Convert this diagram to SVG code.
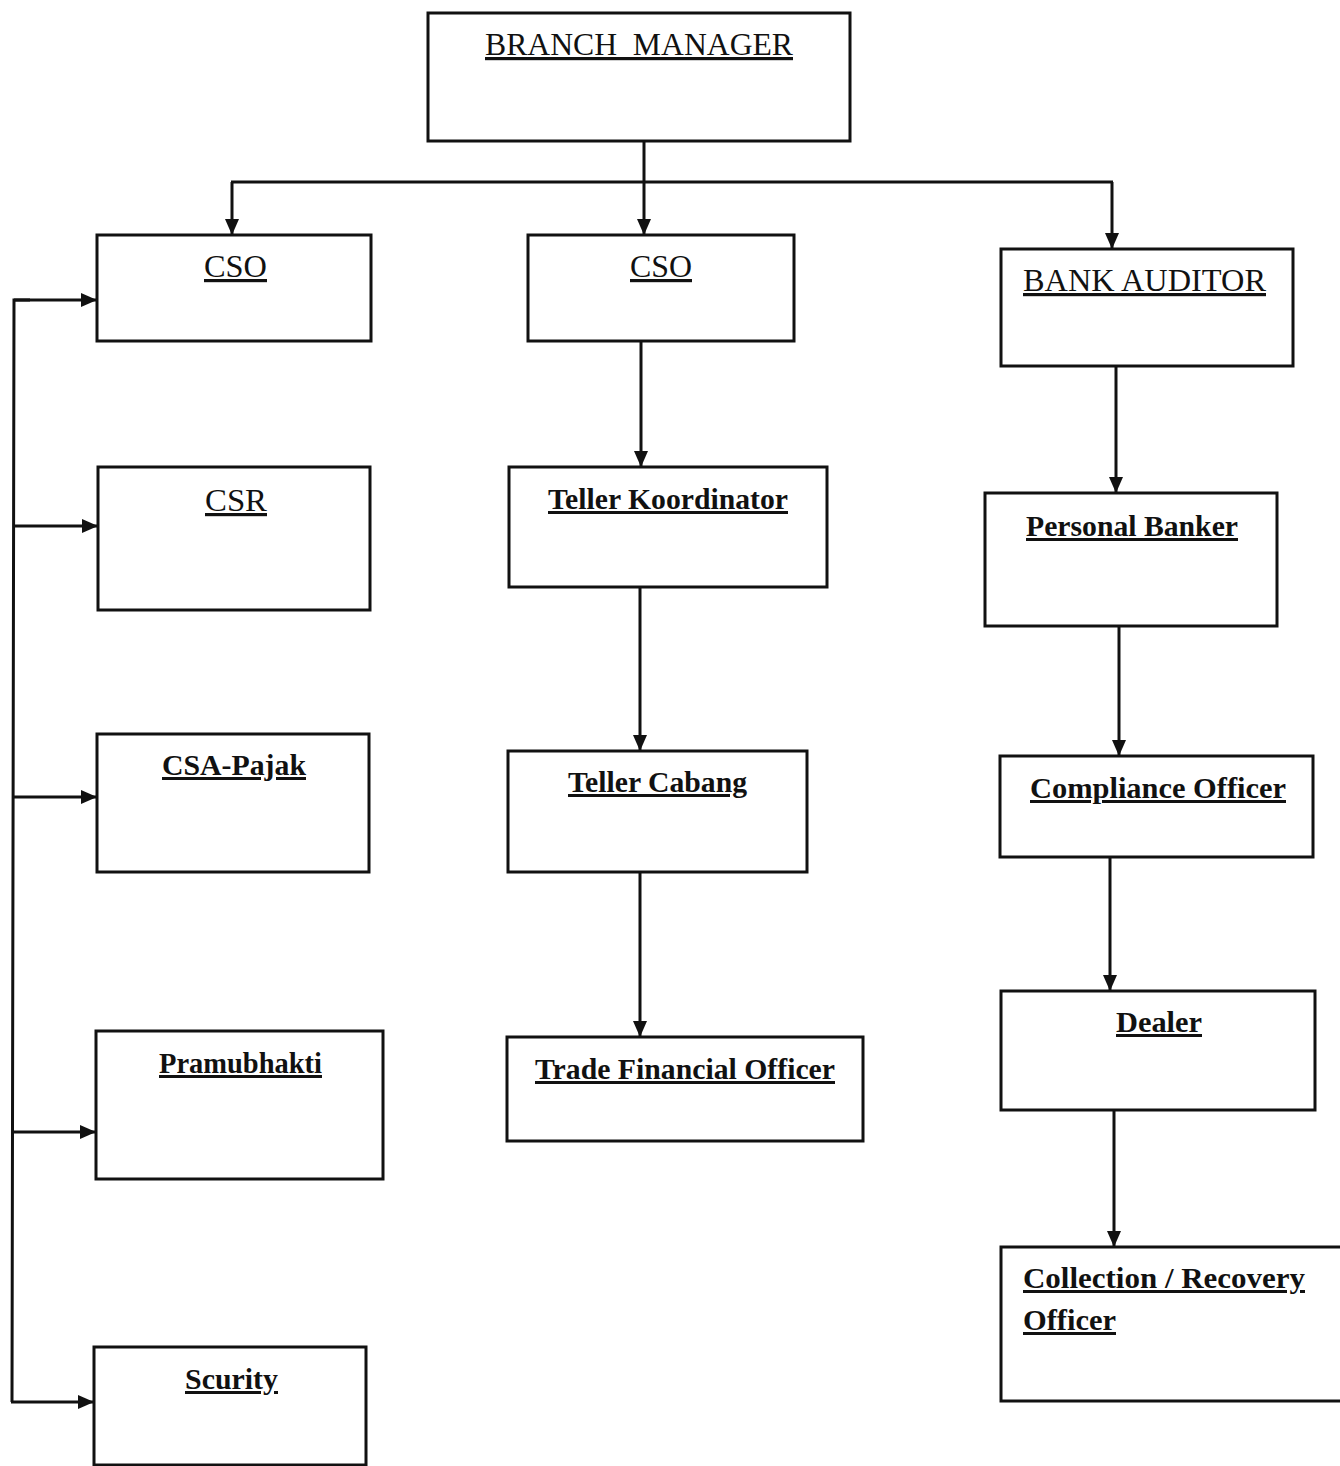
<svg xmlns="http://www.w3.org/2000/svg" width="1340" height="1466" viewBox="0 0 1340 1466">
<style>
.box{fill:#fff;stroke:#111;stroke-width:3}
.t{font-family:"Liberation Serif","Times New Roman","DejaVu Serif",serif;font-size:32px;fill:#111;text-decoration:underline;white-space:pre}
.b{font-weight:bold;font-size:30px}
.c{stroke:#111;stroke-width:3;fill:none}
</style>
<defs>
<marker id="ah" viewBox="0 0 16 14" refX="15" refY="7" markerWidth="16" markerHeight="14" markerUnits="userSpaceOnUse" orient="auto">
<path d="M0,0 L16,7 L0,14 Z" fill="#111"/>
</marker>
</defs>
<rect width="1340" height="1466" fill="#fff"/>
<g id="connectors">
<line class="c" x1="644" y1="141" x2="644" y2="234" marker-end="url(#ah)"/>
<line class="c" x1="231" y1="182" x2="1113" y2="182"/>
<line class="c" x1="232" y1="182" x2="232" y2="234" marker-end="url(#ah)"/>
<line class="c" x1="1112" y1="182" x2="1112" y2="248" marker-end="url(#ah)"/>
<line class="c" x1="641" y1="341" x2="641" y2="466" marker-end="url(#ah)"/>
<line class="c" x1="640" y1="587" x2="640" y2="750" marker-end="url(#ah)"/>
<line class="c" x1="640" y1="872" x2="640" y2="1036" marker-end="url(#ah)"/>
<line class="c" x1="1116" y1="366" x2="1116" y2="492" marker-end="url(#ah)"/>
<line class="c" x1="1119" y1="626" x2="1119" y2="755" marker-end="url(#ah)"/>
<line class="c" x1="1110" y1="857" x2="1110" y2="990" marker-end="url(#ah)"/>
<line class="c" x1="1114" y1="1110" x2="1114" y2="1246" marker-end="url(#ah)"/>
<polyline class="c" points="30,300 14,300 12,1402"/>
<line class="c" x1="14" y1="300" x2="96" y2="300" marker-end="url(#ah)"/>
<line class="c" x1="14" y1="526" x2="97" y2="526" marker-end="url(#ah)"/>
<line class="c" x1="13" y1="797" x2="96" y2="797" marker-end="url(#ah)"/>
<line class="c" x1="13" y1="1132" x2="95" y2="1132" marker-end="url(#ah)"/>
<line class="c" x1="11" y1="1402" x2="93" y2="1402" marker-end="url(#ah)"/>
</g>
<g id="branch-manager"><rect class="box" x="428" y="13" width="422" height="128"/><text class="t" x="485" y="55" textLength="308" lengthAdjust="spacingAndGlyphs">BRANCH  MANAGER</text></g>
<g id="cso-left"><rect class="box" x="97" y="235" width="274" height="106"/><text class="t" x="204" y="277" textLength="63" lengthAdjust="spacingAndGlyphs">CSO</text></g>
<g id="cso-mid"><rect class="box" x="528" y="235" width="266" height="106"/><text class="t" x="630" y="277" textLength="62" lengthAdjust="spacingAndGlyphs">CSO</text></g>
<g id="bank-auditor"><rect class="box" x="1001" y="249" width="292" height="117"/><text class="t" x="1023" y="291" textLength="243" lengthAdjust="spacingAndGlyphs">BANK AUDITOR</text></g>
<g id="csr"><rect class="box" x="98" y="467" width="272" height="143"/><text class="t" x="205" y="511" textLength="62" lengthAdjust="spacingAndGlyphs">CSR</text></g>
<g id="csa-pajak"><rect class="box" x="97" y="734" width="272" height="138"/><text class="t b" x="162" y="775" textLength="144" lengthAdjust="spacingAndGlyphs">CSA-Pajak</text></g>
<g id="pramubhakti"><rect class="box" x="96" y="1031" width="287" height="148"/><text class="t b" x="159" y="1073" textLength="163" lengthAdjust="spacingAndGlyphs">Pramubhakti</text></g>
<g id="scurity"><rect class="box" x="94" y="1347" width="272" height="118"/><text class="t b" x="185" y="1389" textLength="93" lengthAdjust="spacingAndGlyphs">Scurity</text></g>
<g id="teller-koordinator"><rect class="box" x="509" y="467" width="318" height="120"/><text class="t b" x="548" y="509" textLength="240" lengthAdjust="spacingAndGlyphs">Teller Koordinator</text></g>
<g id="teller-cabang"><rect class="box" x="508" y="751" width="299" height="121"/><text class="t b" x="568" y="792" textLength="179" lengthAdjust="spacingAndGlyphs">Teller Cabang</text></g>
<g id="trade-financial-officer"><rect class="box" x="507" y="1037" width="356" height="104"/><text class="t b" x="535" y="1079" textLength="300" lengthAdjust="spacingAndGlyphs">Trade Financial Officer</text></g>
<g id="personal-banker"><rect class="box" x="985" y="493" width="292" height="133"/><text class="t b" x="1026" y="536" textLength="212" lengthAdjust="spacingAndGlyphs">Personal Banker</text></g>
<g id="compliance-officer"><rect class="box" x="1000" y="756" width="313" height="101"/><text class="t b" x="1030" y="798" textLength="256" lengthAdjust="spacingAndGlyphs">Compliance Officer</text></g>
<g id="dealer"><rect class="box" x="1001" y="991" width="314" height="119"/><text class="t b" x="1116" y="1032" textLength="86" lengthAdjust="spacingAndGlyphs">Dealer</text></g>
<g id="collection-recovery-officer"><rect class="box" x="1001" y="1247" width="345" height="154"/><text class="t b" x="1023" y="1288" textLength="282" lengthAdjust="spacingAndGlyphs">Collection / Recovery</text><text class="t b" x="1023" y="1330" textLength="93" lengthAdjust="spacingAndGlyphs">Officer</text></g>
</svg>
